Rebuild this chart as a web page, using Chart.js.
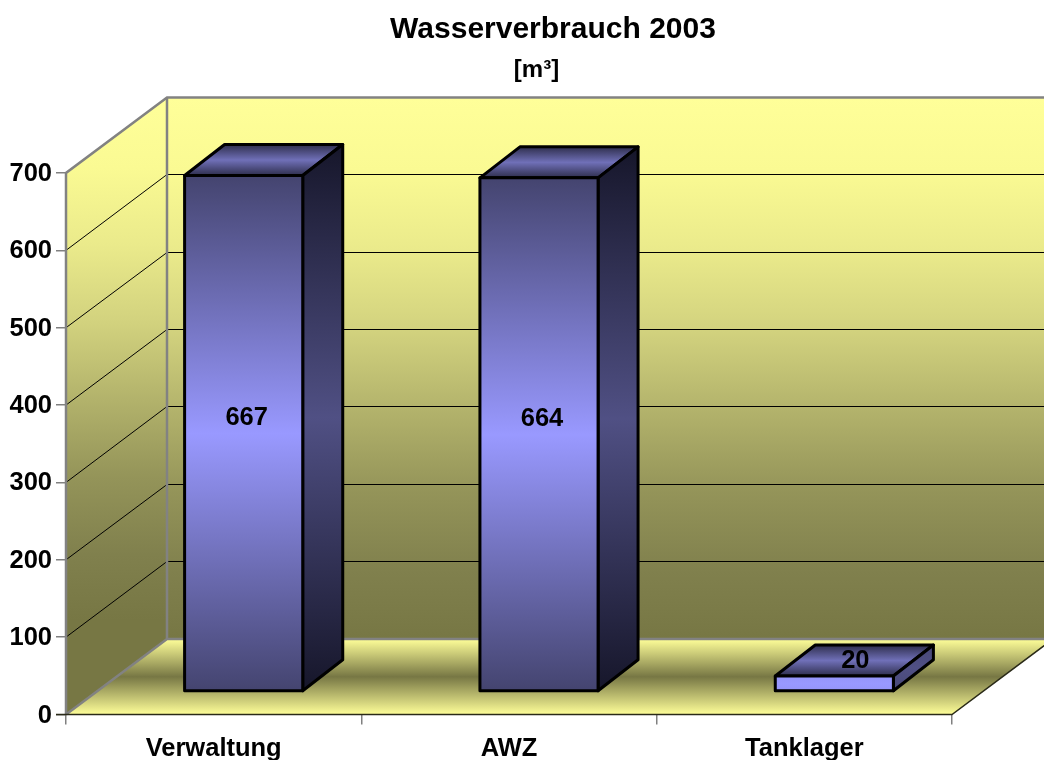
<!DOCTYPE html>
<html>
<head>
<meta charset="utf-8">
<style>html,body{margin:0;padding:0;background:#fff}canvas{display:block}</style>
<script src="https://cdn.jsdelivr.net/npm/chart.js@4"></script>
</head>
<body>
<canvas id="c" width="1044" height="760"></canvas>
<script>
const categories = ['Verwaltung', 'AWZ', 'Tanklager'];
const waterUse = [667, 664, 20];
const titleText = 'Wasserverbrauch 2003';
const subtitleText = '[m³]';
const yMax = 700;
const yStep = 100;

const FONT = '"Liberation Sans", Arial, sans-serif';
const DX = 101, DY = -75.5;            // room depth
const BX = 30, BY = -23;               // bar front offset into room
const CX = 40, CY = -31;               // bar depth
const MIN_SPAN = 170;

function vGrad(ctx, y0, y1, stops) {
  const g = ctx.createLinearGradient(0, y0, 0, y1);
  stops.forEach(s => g.addColorStop(s[0], s[1]));
  return g;
}
function spanGrad(ctx, top, bottom, edge, mid) {
  const c = (top + bottom) / 2, h = Math.max((bottom - top) / 2, MIN_SPAN);
  return vGrad(ctx, c - h, c + h, [[0, edge], [0.5, mid], [1, edge]]);
}
function poly(ctx, pts) {
  ctx.beginPath();
  pts.forEach((p, i) => i ? ctx.lineTo(p[0], p[1]) : ctx.moveTo(p[0], p[1]));
  ctx.closePath();
}

const room3d = {
  id: 'room3d',
  afterLayout(chart) {
    chart.boxes.forEach(b => {
      if (b.options && b.options.text === titleText) { b.left = 62; b.right = 1044; }
      if (b.options && b.options.text === subtitleText) { b.left = 29; b.right = 1044; }
    });
  },
  beforeDatasetsDraw(chart) {
    const { ctx, chartArea: a, scales: { y } } = chart;
    const L = a.left, R = a.right, T = y.getPixelForValue(yMax), B = y.getPixelForValue(0);
    const wall = [[0, '#ffff99'], [0.135, '#fafa93'], [0.283, '#eaea8b'], [0.43, '#d2d27e'],
                  [0.58, '#b2b26b'], [0.727, '#949459'], [0.875, '#80804d'], [1, '#777744']];
    ctx.save();
    // back wall
    ctx.fillStyle = vGrad(ctx, T + DY, B + DY, wall);
    ctx.fillRect(L + DX, T + DY, R - L, B - T);
    // left wall
    ctx.fillStyle = vGrad(ctx, T + DY, B + DY - 19, wall);
    poly(ctx, [[L, T], [L + DX, T + DY], [L + DX, B + DY], [L, B]]);
    ctx.fill();
    // floor
    ctx.fillStyle = vGrad(ctx, B + DY, B, [[0, '#ffff99'], [0.5, '#777744'], [1, '#ffff99']]);
    poly(ctx, [[L, B], [L + DX, B + DY], [R + DX, B + DY], [R, B]]);
    ctx.fill();
    // grid lines
    ctx.strokeStyle = '#000';
    ctx.lineWidth = 1;
    for (let v = yStep; v < yMax; v += yStep) {
      const p = y.getPixelForValue(v);
      const back = Math.floor(p + DY) + 0.5;
      ctx.beginPath();
      ctx.moveTo(L, p);
      ctx.lineTo(L + DX, back);
      ctx.lineTo(R + DX, back);
      ctx.stroke();
    }
    // room edges
    ctx.strokeStyle = '#828282';
    ctx.lineWidth = 2.5;
    ctx.beginPath();
    ctx.moveTo(L, B); ctx.lineTo(L, T); ctx.lineTo(L + DX, T + DY);
    ctx.lineTo(R + DX, T + DY);
    ctx.moveTo(L + DX, T + DY); ctx.lineTo(L + DX, B + DY); ctx.lineTo(R + DX, B + DY);
    ctx.moveTo(L + DX, B + DY); ctx.lineTo(L, B);
    ctx.stroke();
    ctx.strokeStyle = '#2a2a18';
    ctx.lineWidth = 1.5;
    ctx.beginPath();
    ctx.moveTo(L - 10, B); ctx.lineTo(R, B); ctx.lineTo(R + DX, B + DY);
    ctx.stroke();
    ctx.restore();
  },
  beforeDatasetDraw(chart, args) {
    const { ctx } = chart;
    const meta = chart.getDatasetMeta(args.index);
    ctx.save();
    ctx.translate(BX, BY);
    meta.data.forEach(el => {
      const { x, y, base, width } = el.getProps(['x', 'y', 'base', 'width'], true);
      const l = x - width / 2, r = x + width / 2;
      ctx.strokeStyle = '#000';
      ctx.lineWidth = 3;
      ctx.lineJoin = 'round';
      // top face
      ctx.fillStyle = vGrad(ctx, y + CY, y, [[0, '#2e2e4c'], [0.5, '#7070b8'], [1, '#2e2e4c']]);
      poly(ctx, [[l, y], [l + CX, y + CY], [r + CX, y + CY], [r, y]]);
      ctx.fill(); ctx.stroke();
      // side face
      ctx.fillStyle = spanGrad(ctx, y + CY, base, '#16162a', '#505084');
      poly(ctx, [[r, y], [r + CX, y + CY], [r + CX, base + CY], [r, base]]);
      ctx.fill(); ctx.stroke();
    });
  },
  afterDatasetDraw(chart, args) {
    const { ctx } = chart;
    chart.getDatasetMeta(args.index).data.forEach(el => {
      const { x, y, base, width } = el.getProps(['x', 'y', 'base', 'width'], true);
      ctx.strokeStyle = '#000';
      ctx.lineWidth = 3;
      ctx.lineJoin = 'round';
      ctx.strokeRect(x - width / 2, y, width, base - y);
    });
    ctx.restore();
  },
  afterDatasetsDraw(chart) {
    const { ctx } = chart;
    const meta = chart.getDatasetMeta(0);
    ctx.save();
    ctx.fillStyle = '#000';
    ctx.font = 'bold 25.5px ' + FONT;
    ctx.textAlign = 'center';
    ctx.textBaseline = 'middle';
    meta.data.forEach((el, i) => {
      const { x, y, base } = el.getProps(['x', 'y', 'base'], true);
      let lx, ly;
      if (base - y < 50) {           // flat bar: label sits on its top face
        lx = x + BX + CX / 2 + 1;
        ly = y + BY + CY / 2;
      } else {                       // tall bar: label on the front face
        lx = x + BX + 3;
        ly = (y + base) / 2 + BY - 15.5;
      }
      ctx.fillText(String(waterUse[i]), lx, ly);
    });
    ctx.restore();
  }
};

new Chart(document.getElementById('c'), {
  type: 'bar',
  data: {
    labels: categories,
    datasets: [{
      data: waterUse,
      categoryPercentage: 1,
      barPercentage: 0.4,
      borderWidth: 0,
      borderSkipped: false,
      clip: false,
      backgroundColor(c) {
        const s = c.chart.scales.y;
        const v = waterUse[c.dataIndex];
        if (!s || v === undefined) return '#9999ff';
        const top = s.getPixelForValue(v), bot = s.getPixelForValue(0);
        if (!Number.isFinite(top) || !Number.isFinite(bot)) return '#9999ff';
        return spanGrad(c.chart.ctx, top, bot, '#44446f', '#9999ff');
      }
    }]
  },
  plugins: [room3d],
  options: {
    responsive: false,
    animation: false,
    devicePixelRatio: 1,
    layout: { padding: { left: 0, right: 92, top: 0, bottom: 0 } },
    plugins: {
      legend: { display: false },
      tooltip: { enabled: false },
      title: {
        display: true, text: titleText, color: '#000',
        font: { family: FONT, size: 30, weight: 'bold', lineHeight: 1.2 },
        padding: { top: 12, bottom: 4 }
      },
      subtitle: {
        display: true, text: subtitleText, color: '#000',
        font: { family: FONT, size: 24, weight: 'bold', lineHeight: 1.0 },
        padding: { top: 6, bottom: 91 }
      }
    },
    scales: {
      x: {
        grid: { color: '#808080', lineWidth: 1.5, drawOnChartArea: false, drawTicks: true, tickLength: 10 },
        border: { display: false },
        ticks: { color: '#000', font: { family: FONT, size: 25.5, weight: 'bold' }, padding: 9.5, maxRotation: 0, autoSkip: false },
        afterFit(s) { s.height = 45.5; }
      },
      y: {
        min: 0, max: yMax,
        grid: { color: '#808080', lineWidth: 1.5, drawOnChartArea: false, drawTicks: true, tickLength: 10 },
        border: { display: false },
        ticks: { stepSize: yStep, color: '#000', font: { family: FONT, size: 25.5, weight: 'bold' }, padding: 4, labelOffset: 1 },
        afterFit(s) { s.width = 66; }
      }
    }
  }
});
</script>
</body>
</html>
